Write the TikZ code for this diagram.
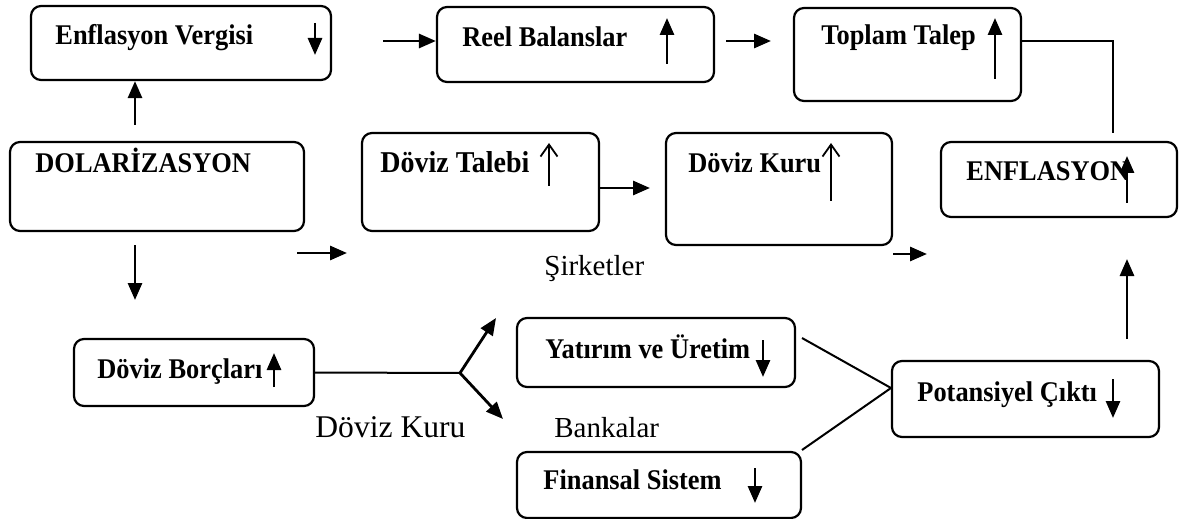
\documentclass[tikz,border=0pt]{standalone}
\usepackage{fontspec}
\setmainfont{Liberation Serif}
\usetikzlibrary{arrows.meta}
\begin{document}
\begin{tikzpicture}[x=0.5pt,y=-0.5pt,
 box/.style={draw, line width=1.1pt, rounded corners=5pt, inner sep=0pt},
 btxt/.style={font=\fontsize{13.2}{15}\selectfont\bfseries, anchor=base west, inner sep=0pt, yscale=1.08},
 lbl/.style={font=\fontsize{14.5}{17}\selectfont, anchor=base west, inner sep=0pt},
 arr/.style={line width=1.4pt, -{Triangle[length=8.5pt,width=7pt]}},
 conn/.style={line width=1pt},
 openarr/.style={line width=0.9pt, -{Straight Barb[length=6pt,width=8.5pt]}},
]
\useasboundingbox (0,0) rectangle (1195,519);

% boxes
\node[box, minimum width=150pt, minimum height=37pt] (ev) at (181,43) {};
\node[box, minimum width=138.5pt, minimum height=37.5pt] (rb) at (575.5,44.5) {};
\node[box, minimum width=113.5pt, minimum height=46.5pt] (tt) at (907.5,54.5) {};
\node[box, minimum width=147pt, minimum height=44.5pt] (dol) at (157,186.5) {};
\node[box, minimum width=118.5pt, minimum height=49pt] (dt) at (480.5,182) {};
\node[box, minimum width=113pt, minimum height=56pt] (dk) at (779,189) {};
\node[box, minimum width=118pt, minimum height=37.5pt] (enf) at (1059,179.5) {};
\node[box, minimum width=120pt, minimum height=33.5pt] (db) at (194,372.5) {};
\node[box, minimum width=139pt, minimum height=34.5pt] (yu) at (656,352.5) {};
\node[box, minimum width=142pt, minimum height=33pt] (fs) at (659,485) {};
\node[box, minimum width=133.5pt, minimum height=38pt] (pc) at (1025.5,399) {};

% box texts
\node[btxt] (evt) at (55,45) {Enflasyon Vergisi};
\node[btxt] (rbt) at (462,47) {Reel Balanslar};
\node[btxt] (ttt) at (821,45) {Toplam Talep};
\node[btxt] (dolt) at (35,173) {DOLARİZASYON};
\node[btxt, font=\fontsize{14}{16}\selectfont\bfseries] (dtt) at (380,173) {Döviz Talebi};
\node[btxt] (dkt) at (688,173) {Döviz Kuru};
\node[btxt] (enft) at (966,181) {ENFLASYON};
\node[btxt] (dbt) at (97,378) {Döviz Borçları};
\node[btxt] (yut) at (545,358) {Yatırım ve Üretim};
\node[btxt] (fst) at (543,489) {Finansal Sistem};
\node[btxt] (pct) at (917,401) {Potansiyel Çıktı};

% free labels
\node[lbl] (sirk) at (544,275) {Şirketler};
\node[lbl, font=\fontsize{15.8}{18}\selectfont] (dkur) at (315,437) {Döviz Kuru};
\node[lbl] (bank) at (554,437) {Bankalar};

% in-box trend arrows
\draw[arr] (315,23) -- (315,55);
\draw[arr] (667,64) -- (667,18);
\draw[arr] (995,79) -- (995,18);
\draw[openarr] (549,186) -- (549,143);
\draw[openarr] (831,201) -- (831,143);
\draw[arr] (1127,203) -- (1127,156);
\draw[arr] (274,387) -- (274,353);
\draw[arr] (763,340) -- (763,377);
\draw[arr] (755,468) -- (755,503);
\draw[arr] (1113,379) -- (1113,418);

% connectors
\coordinate (a1) at (135,125);
\draw[arr] (a1) -- (a1 |- ev.south);
\coordinate (a2) at (383,41);
\draw[arr] (a2) -- (a2 -| rb.west);
\coordinate (a3s) at (726,41);
\coordinate (a3e) at (771,41);
\draw[arr] (a3s) -- (a3e);
\coordinate (ttc) at (1113,41);
\coordinate (tte) at (1113,133);
\draw[conn] (tt.east |- ttc) -- (ttc) -- (tte);
\coordinate (a4s) at (135,245);
\coordinate (a4e) at (135,300);
\draw[arr] (a4s) -- (a4e);
\coordinate (a5s) at (297,253);
\coordinate (a5e) at (347,253);
\draw[arr] (a5s) -- (a5e);
\coordinate (a6e) at (650,188);
\draw[arr] (dt.east |- a6e) -- (a6e);
\coordinate (a7s) at (893,254);
\coordinate (a7e) at (927,254);
\draw[arr] (a7s) -- (a7e);
\coordinate (a8s) at (1127,339);
\coordinate (a8e) at (1127,259);
\draw[arr] (a8s) -- (a8e);
\coordinate (br) at (460,373);
\coordinate (br1) at (496,318);
\coordinate (br2) at (503,419);
\draw[conn] (db.east) -- (br);
\draw[arr] (br) -- (br1);
\draw[arr] (br) -- (br2);
\coordinate (yus) at (802,338);
\coordinate (fss) at (802,450);
\coordinate (pcj) at (891,388);
\draw[conn] (yus) -- (pcj);
\draw[conn] (fss) -- (pcj);
\end{tikzpicture}
\end{document}
